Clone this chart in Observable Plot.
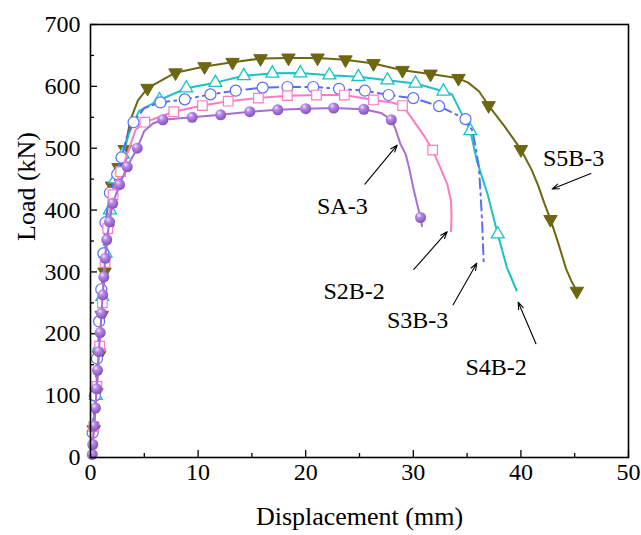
<!DOCTYPE html>
<html>
<head>
<meta charset="utf-8">
<script src="https://cdn.jsdelivr.net/npm/d3@7"></script>
<script src="https://cdn.jsdelivr.net/npm/@observablehq/plot@0.6"></script>
<style>
  html, body { margin: 0; padding: 0; background: white; }
</style>
</head>
<body>
<div id="chart"></div>
<script>
// ---------- data (x: displacement mm, y: load kN) ----------
const xMajor = [0, 10, 20, 30, 40, 50];
const xMinor = [5, 15, 25, 35, 45];
const yMajor = [0, 100, 200, 300, 400, 500, 600, 700];
const yMinor = [50, 150, 250, 350, 450, 550, 650];

const sa3Line = [[0,0],[0.16,5],[0.21,21],[0.34,51],[0.46,80],[0.56,111],[0.65,141],[0.77,171],[0.90,202],[1.02,233],[1.14,263],[1.24,292],[1.37,322],[1.51,352],[1.77,381],[2.07,411],[2.70,441],[3.41,470],[4.34,500],[5.0,528],[5.8,540],[6.72,546],[9.45,550],[12.1,554],[14.8,559],[17.4,562],[20.0,564],[22.6,565],[25.4,563],[27.0,557],[27.95,546],[28.3,533],[28.8,507],[29.3,490],[29.6,469],[30.0,436],[30.35,410],[30.67,388],[30.8,374]];
const sa3Marks = [[0.16,5],[0.21,21],[0.34,51],[0.46,80],[0.56,111],[0.65,141],[0.77,171],[0.90,202],[1.02,233],[1.14,263],[1.24,292],[1.37,322],[1.51,352],[1.77,381],[2.07,411],[2.70,441],[3.41,470],[4.34,500],[6.72,546],[9.45,550],[12.1,554],[14.8,559],[17.4,562],[20.0,564],[22.6,565],[25.4,563],[27.95,546],[30.67,388]];

const s2b2Line = [[0,0],[0.2,20],[0.5,90],[0.8,170],[1.1,250],[1.4,330],[1.8,400],[2.3,440],[3.0,470],[3.6,500],[4.2,530],[5.05,542],[7.74,559],[10.4,569],[12.8,576],[15.6,581],[18.3,585],[21.0,586],[23.6,586],[26.3,578],[28.0,574],[29.0,569],[30.0,545],[31.0,520],[31.8,497],[32.5,469],[33.15,442],[33.5,415],[33.55,390],[33.5,366]];
const s2b2Marks = [[0.3,50],[0.6,115],[0.85,180],[1.1,250],[1.35,315],[1.6,370],[2.1,425],[2.8,462],[5.05,542],[7.74,559],[10.4,569],[12.8,576],[15.6,581],[18.3,585],[21.0,586],[23.6,586],[26.3,578],[29.0,569],[31.8,497]];

const s3b3Line = [[0,0],[0.15,30],[0.4,100],[0.7,180],[1.0,270],[1.39,380],[1.8,428],[2.48,458],[2.88,485],[3.4,520],[4.0,542],[5.0,565],[6.5,574],[8.76,579],[11.15,587],[13.5,593],[16.0,598],[18.3,599],[20.7,599],[23.1,596],[25.5,593],[27.7,586],[30.0,581],[32.4,568],[34.85,547],[35.5,528],[35.8,501],[36.1,469],[36.25,426],[36.4,380],[36.55,312]];
const s3b3Marks = [[0.2,40],[0.4,100],[0.6,160],[0.8,220],[1.0,272],[1.2,330],[1.39,380],[1.8,428],[2.48,458],[2.88,485],[4.0,542],[6.5,574],[8.76,579],[11.15,587],[13.5,593],[16.0,598],[18.3,599],[20.7,599],[23.1,596],[25.5,593],[27.7,586],[30.0,581],[32.4,568],[34.85,547]];

const s4b2Line = [[0,0],[0.3,60],[0.6,130],[0.9,210],[1.2,290],[1.5,360],[1.9,420],[2.4,460],[3.0,490],[3.6,525],[4.5,560],[6.41,578],[8.9,597],[11.6,606],[14.25,617],[16.9,621],[19.5,621.5],[22.2,618],[24.9,615.5],[27.6,610],[30.2,604.7],[32.8,592],[33.6,587],[34.2,566],[35.3,528],[35.9,480],[36.9,426],[37.85,361],[38.7,307],[39.6,270]];
const s4b2Marks = [[0.5,100],[0.8,180],[1.1,260],[1.4,330],[1.8,400],[2.3,450],[3.0,490],[6.41,578],[8.9,597],[11.6,606],[14.25,617],[16.9,621],[19.5,621.5],[22.2,618],[24.9,615.5],[27.6,610],[30.2,604.7],[32.8,592],[35.3,528],[37.85,361]];

const s5b3Line = [[0,0],[0.2,20],[0.4,70],[0.7,140],[1.0,220],[1.3,300],[1.6,370],[2.0,439],[2.6,469],[3.19,498],[3.7,545],[4.4,577],[5.3,597],[7.9,622],[10.6,632],[13.2,639],[15.8,645],[18.4,646],[21.1,646],[23.7,643],[26.3,637],[29.0,626],[31.6,620],[34.2,613],[35.1,606],[36.1,592],[37.0,569],[38.5,535],[40.0,498],[41.0,465],[41.6,440],[42.2,410],[42.75,385],[43.5,345],[44.2,305],[44.7,285],[45.2,269]];
const s5b3Marks = [[0.3,45],[0.55,105],[0.8,165],[1.05,230],[1.3,300],[1.6,370],[2.0,439],[2.6,469],[3.19,498],[5.3,597],[7.9,622],[10.6,632],[13.2,639],[15.8,645],[18.4,646],[21.1,646],[23.7,643],[26.3,637],[29.0,626],[31.6,620],[34.2,613],[37.0,569],[40.0,498],[42.75,385],[45.2,269]];

const labelNames = ["SA-3", "S2B-2", "S3B-3", "S4B-2", "S5B-3"];
const labelX = [23.4, 24.5, 30.4, 37.7, 44.9];
const labelY = [406, 269, 221, 146, 483];
// arrows: tail (x1,y1) -> head (x2,y2)
const arrowX1 = [25.5, 30.05, 33.7, 41.4, 46.5];
const arrowY1 = [442, 304, 247, 184, 459];
const arrowX2 = [28.5, 33.15, 35.9, 39.75, 42.9];
const arrowY2 = [505, 365, 314, 251, 434];

const xTitle = "Displacement (mm)";
const yTitle = "Load (kN)";

// ---------- styling ----------
const serif = "Liberation Serif";
const cSA = "#a36fd6", cSAfill = "#a36fe0";
const c2B = "#ff7bbf";
const c3B = "#5b6cf6";
const c4B = "#19c3c3";
const c5B = "#6e6712";

const triangleDown = {
  draw(context, size) {
    const y = -Math.sqrt(size / (Math.sqrt(3) * 3));
    context.moveTo(0, -y * 2);
    context.lineTo(-Math.sqrt(3) * y, y);
    context.lineTo(Math.sqrt(3) * y, y);
    context.closePath();
  }
};

const fx = d => d[0], fy = d => d[1];
const labels = labelNames.map((t, i) => ({t, x: labelX[i], y: labelY[i]}));
const arrows = arrowX1.map((x1, i) => ({x1, y1: arrowY1[i], x2: arrowX2[i], y2: arrowY2[i]}));

const svg = Plot.plot({
  width: 641,
  height: 535,
  marginLeft: 90,
  marginRight: 13,
  marginTop: 24,
  marginBottom: 78,
  style: {fontFamily: serif, fontSize: "24px", background: "white", color: "black", overflow: "visible"},
  x: {domain: [0, 50], axis: null},
  y: {domain: [0, 700], axis: null},
  marks: [
    // inward ticks
    Plot.ruleX(xMajor, {x: d => d, y1: 0, y2: 11.3, stroke: "black", strokeWidth: 1.3}),
    Plot.ruleX(xMinor, {x: d => d, y1: 0, y2: 6.5, stroke: "black", strokeWidth: 1.3}),
    Plot.ruleY(yMajor, {y: d => d, x1: 0, x2: 0.65, stroke: "black", strokeWidth: 1.3}),
    Plot.ruleY(yMinor, {y: d => d, x1: 0, x2: 0.37, stroke: "black", strokeWidth: 1.3}),
    // tick labels
    Plot.text(xMajor, {x: d => d, frameAnchor: "bottom", dy: 22, text: d => String(d), fontFamily: serif, fontSize: 24, fill: "black"}),
    Plot.text(yMajor, {y: d => d, frameAnchor: "left", dx: -10, textAnchor: "end", text: d => String(d), fontFamily: serif, fontSize: 24, fill: "black"}),

    // S5B-3
    Plot.line(s5b3Line, {x: fx, y: fy, stroke: c5B, strokeWidth: 2}),
    Plot.dot(s5b3Marks, {x: fx, y: fy, symbol: triangleDown, r: 5, fill: c5B, stroke: c5B, strokeWidth: 1}),
    // S4B-2
    Plot.line(s4b2Line, {x: fx, y: fy, stroke: c4B, strokeWidth: 2}),
    Plot.dot(s4b2Marks, {x: fx, y: fy, symbol: "triangle", r: 4.8, fill: "white", stroke: c4B, strokeWidth: 1.3}),
    // S3B-3
    Plot.line(s3b3Line, {x: fx, y: fy, stroke: c3B, strokeWidth: 2, strokeDasharray: "10,5,2,5"}),
    Plot.dot(s3b3Marks, {x: fx, y: fy, r: 5.5, fill: "white", stroke: c3B, strokeWidth: 1.2}),
    // S2B-2
    Plot.line(s2b2Line, {x: fx, y: fy, stroke: c2B, strokeWidth: 2}),
    Plot.dot(s2b2Marks, {x: fx, y: fy, symbol: "square", r: 5.4, fill: "white", stroke: c2B, strokeWidth: 1.2}),
    // SA-3
    Plot.line(sa3Line, {x: fx, y: fy, stroke: cSA, strokeWidth: 2}),
    Plot.dot(sa3Marks, {x: fx, y: fy, r: 5.5, fill: cSAfill, stroke: "none"}),

    // annotations
    Plot.arrow(arrows, {x1: "x1", y1: "y1", x2: "x2", y2: "y2", stroke: "black", strokeWidth: 1.1, headLength: 10, headAngle: 40}),
    Plot.text(labels, {x: "x", y: "y", text: "t", fontFamily: serif, fontSize: 24, fill: "black"}),

    // axis titles
    Plot.text([xTitle], {frameAnchor: "bottom", dy: 67, text: d => d, fontFamily: serif, fontSize: 26, fill: "black"}),
    Plot.text([yTitle], {frameAnchor: "left", dx: -64, rotate: -90, text: d => d, fontFamily: serif, fontSize: 26, fill: "black"}),

    Plot.frame({stroke: "black", strokeWidth: 1.6})
  ]
});

// sphere shading for SA-3 markers
const ns = "http://www.w3.org/2000/svg";
const defs = document.createElementNS(ns, "defs");
const grad = document.createElementNS(ns, "radialGradient");
grad.setAttribute("id", "ballGrad");
grad.setAttribute("cx", "0.4"); grad.setAttribute("cy", "0.35"); grad.setAttribute("r", "0.65");
grad.setAttribute("fx", "0.35"); grad.setAttribute("fy", "0.3");
[["0", "#f4e8ff"], ["0.35", "#b689e6"], ["1", "#8450c0"]].forEach(([o, c]) => {
  const s = document.createElementNS(ns, "stop");
  s.setAttribute("offset", o); s.setAttribute("stop-color", c);
  grad.appendChild(s);
});
defs.appendChild(grad);
svg.insertBefore(defs, svg.firstChild);
svg.querySelectorAll(`[fill="${cSAfill}"]`).forEach(el => el.setAttribute("fill", "url(#ballGrad)"));

document.getElementById("chart").appendChild(svg);
</script>
</body>
</html>
